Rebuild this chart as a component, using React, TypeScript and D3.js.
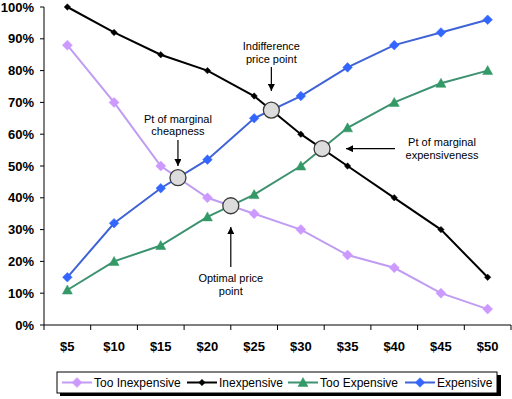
import React from "react";
import * as d3 from "d3";

const categories = ["$5", "$10", "$15", "$20", "$25", "$30", "$35", "$40", "$45", "$50"];
const tooInexpensive = [88, 70, 50, 40, 35, 30, 22, 18, 10, 5];
const inexpensive = [100, 92, 85, 80, 72, 60, 50, 40, 30, 15];
const tooExpensive = [11, 20, 25, 34, 41, 50, 62, 70, 76, 80];
const expensive = [15, 32, 43, 52, 65, 72, 81, 88, 92, 96];
const yTicks = [0, 10, 20, 30, 40, 50, 60, 70, 80, 90, 100];

const W = 512, H = 399;
const x = d3.scaleBand<string>().domain(categories).range([44, 511]).padding(0);
const y = d3.scaleLinear().domain([0, 100]).range([325, 7]);
const cx = (c: string) => (x(c) as number) + x.bandwidth() / 2;

type Series = { name: string; values: number[]; line: string; fill: string; marker: "bigdiamond" | "smalldiamond" | "triangle" | "diamond" };
const series: Series[] = [
  { name: "Too Inexpensive", values: tooInexpensive, line: "#c09cf2", fill: "#cc99ff", marker: "bigdiamond" },
  { name: "Inexpensive", values: inexpensive, line: "#000000", fill: "#000000", marker: "smalldiamond" },
  { name: "Too Expensive", values: tooExpensive, line: "#3d9270", fill: "#339966", marker: "triangle" },
  { name: "Expensive", values: expensive, line: "#3f63d6", fill: "#3366ff", marker: "diamond" },
];

function markerPath(kind: Series["marker"]) {
  if (kind === "bigdiamond") return "M0,-5L5,0L0,5L-5,0Z";
  if (kind === "smalldiamond") return "M0,-3.2L3.2,0L0,3.2L-3.2,0Z";
  if (kind === "diamond") return "M0,-4.8L4.8,0L0,4.8L-4.8,0Z";
  return "M0,-5L5,4L-5,4Z";
}

function intersect(a: number[], b: number[]) {
  for (let i = 0; i < a.length - 1; i++) {
    const d0 = a[i] - b[i], d1 = a[i + 1] - b[i + 1];
    if (d0 === 0) return { px: cx(categories[i]), py: y(a[i]) };
    if (d0 * d1 < 0) {
      const t = d0 / (d0 - d1);
      const x0 = cx(categories[i]), x1 = cx(categories[i + 1]);
      return { px: x0 + t * (x1 - x0), py: y(a[i] + t * (a[i + 1] - a[i])) };
    }
  }
  return { px: 0, py: 0 };
}

export default function App() {
  const line = d3.line<number>().x((_, i) => cx(categories[i])).y((v) => y(v));
  const cheap = intersect(tooInexpensive, expensive);
  const indiff = intersect(inexpensive, expensive);
  const margExp = intersect(inexpensive, tooExpensive);
  const optimal = intersect(tooInexpensive, tooExpensive);
  const font = "'Liberation Sans', Arial, sans-serif";
  const legendItems = [
    { s: series[0], x0: 62 },
    { s: series[1], x0: 187 },
    { s: series[2], x0: 288 },
    { s: series[3], x0: 405 },
  ];
  return (
    <svg width={W} height={H} style={{ position: "absolute", left: 0, top: 0, background: "#fff" }} fontFamily={font}>
      <defs>
        <marker id="arr" viewBox="0 0 10 10" refX="10" refY="5" markerWidth="7" markerHeight="7" markerUnits="userSpaceOnUse" orient="auto">
          <path d="M0,0L10,5L0,10Z" fill="#000" />
        </marker>
      </defs>
      <rect width={W} height={H} fill="#fff" />
      {/* axes */}
      <line x1={44} x2={44} y1={y(100)} y2={y(0)} stroke="#000" strokeWidth={1} />
      <line x1={44} x2={511} y1={y(0)} y2={y(0)} stroke="#000" strokeWidth={1} />
      {yTicks.map((t) => (
        <g key={t}>
          <line x1={40} x2={44} y1={y(t)} y2={y(t)} stroke="#000" />
          <text x={34} y={y(t)} dy="0.36em" textAnchor="end" fontSize={13} fontWeight="bold">{t}%</text>
        </g>
      ))}
      {categories.concat(["end"]).map((c, i) => {
        const xx = 44 + i * x.bandwidth();
        return <line key={c} x1={xx} x2={xx} y1={325} y2={330} stroke="#000" />;
      })}
      {categories.map((c) => (
        <text key={c} x={cx(c)} y={346} dy="0.36em" textAnchor="middle" fontSize={13} fontWeight="bold">{c}</text>
      ))}
      {/* series */}
      {series.map((s) => (
        <g key={s.name}>
          <path d={line(s.values) || ""} fill="none" stroke={s.line} strokeWidth={2} />
          {s.values.map((v, i) => (
            <path key={i} d={markerPath(s.marker)} transform={`translate(${cx(categories[i])},${y(v)})`} fill={s.fill} stroke={s.fill} strokeWidth={0.5} />
          ))}
        </g>
      ))}
      {/* intersection circles */}
      {[cheap, indiff, margExp, optimal].map((p, i) => (
        <circle key={i} cx={p.px} cy={p.py} r={8} fill="#dcdcdc" stroke="#3a3a3a" strokeWidth={1.3} />
      ))}
      {/* annotations */}
      <g fontSize={11} textAnchor="middle" fill="#000">
        <text x={cheap.px} y={123}>Pt of marginal</text>
        <text x={cheap.px} y={135}>cheapness</text>
        <line x1={cheap.px} x2={cheap.px} y1={140} y2={166} stroke="#000" strokeWidth={1.2} markerEnd="url(#arr)" />

        <text x={indiff.px} y={50}>Indifference</text>
        <text x={indiff.px} y={63}>price point</text>
        <line x1={indiff.px} x2={indiff.px} y1={67} y2={91} stroke="#000" strokeWidth={1.2} markerEnd="url(#arr)" />

        <text x={442} y={146}>Pt of marginal</text>
        <text x={442} y={159}>expensiveness</text>
        <line x1={395} x2={346} y1={margExp.py} y2={margExp.py} stroke="#000" strokeWidth={1.2} markerEnd="url(#arr)" />

        <text x={optimal.px} y={282}>Optimal price</text>
        <text x={optimal.px} y={295}>point</text>
        <line x1={optimal.px} x2={optimal.px} y1={267} y2={227} stroke="#000" strokeWidth={1.2} markerEnd="url(#arr)" />
      </g>
      {/* legend */}
      <rect x={60} y={375} width={441} height={21} fill="#000" />
      <rect x={57} y={372} width={440} height={21} fill="#fff" stroke="#000" strokeWidth={1} />
      {legendItems.map(({ s, x0 }) => (
        <g key={s.name}>
          <line x1={x0} x2={x0 + 30} y1={382.5} y2={382.5} stroke={s.line} strokeWidth={2} />
          <path d={markerPath(s.marker)} transform={`translate(${x0 + 15},382.5)`} fill={s.fill} stroke={s.fill} strokeWidth={0.5} />
          <text x={x0 + 32} y={382.5} dy="0.36em" fontSize={12}>{s.name}</text>
        </g>
      ))}
    </svg>
  );
}
